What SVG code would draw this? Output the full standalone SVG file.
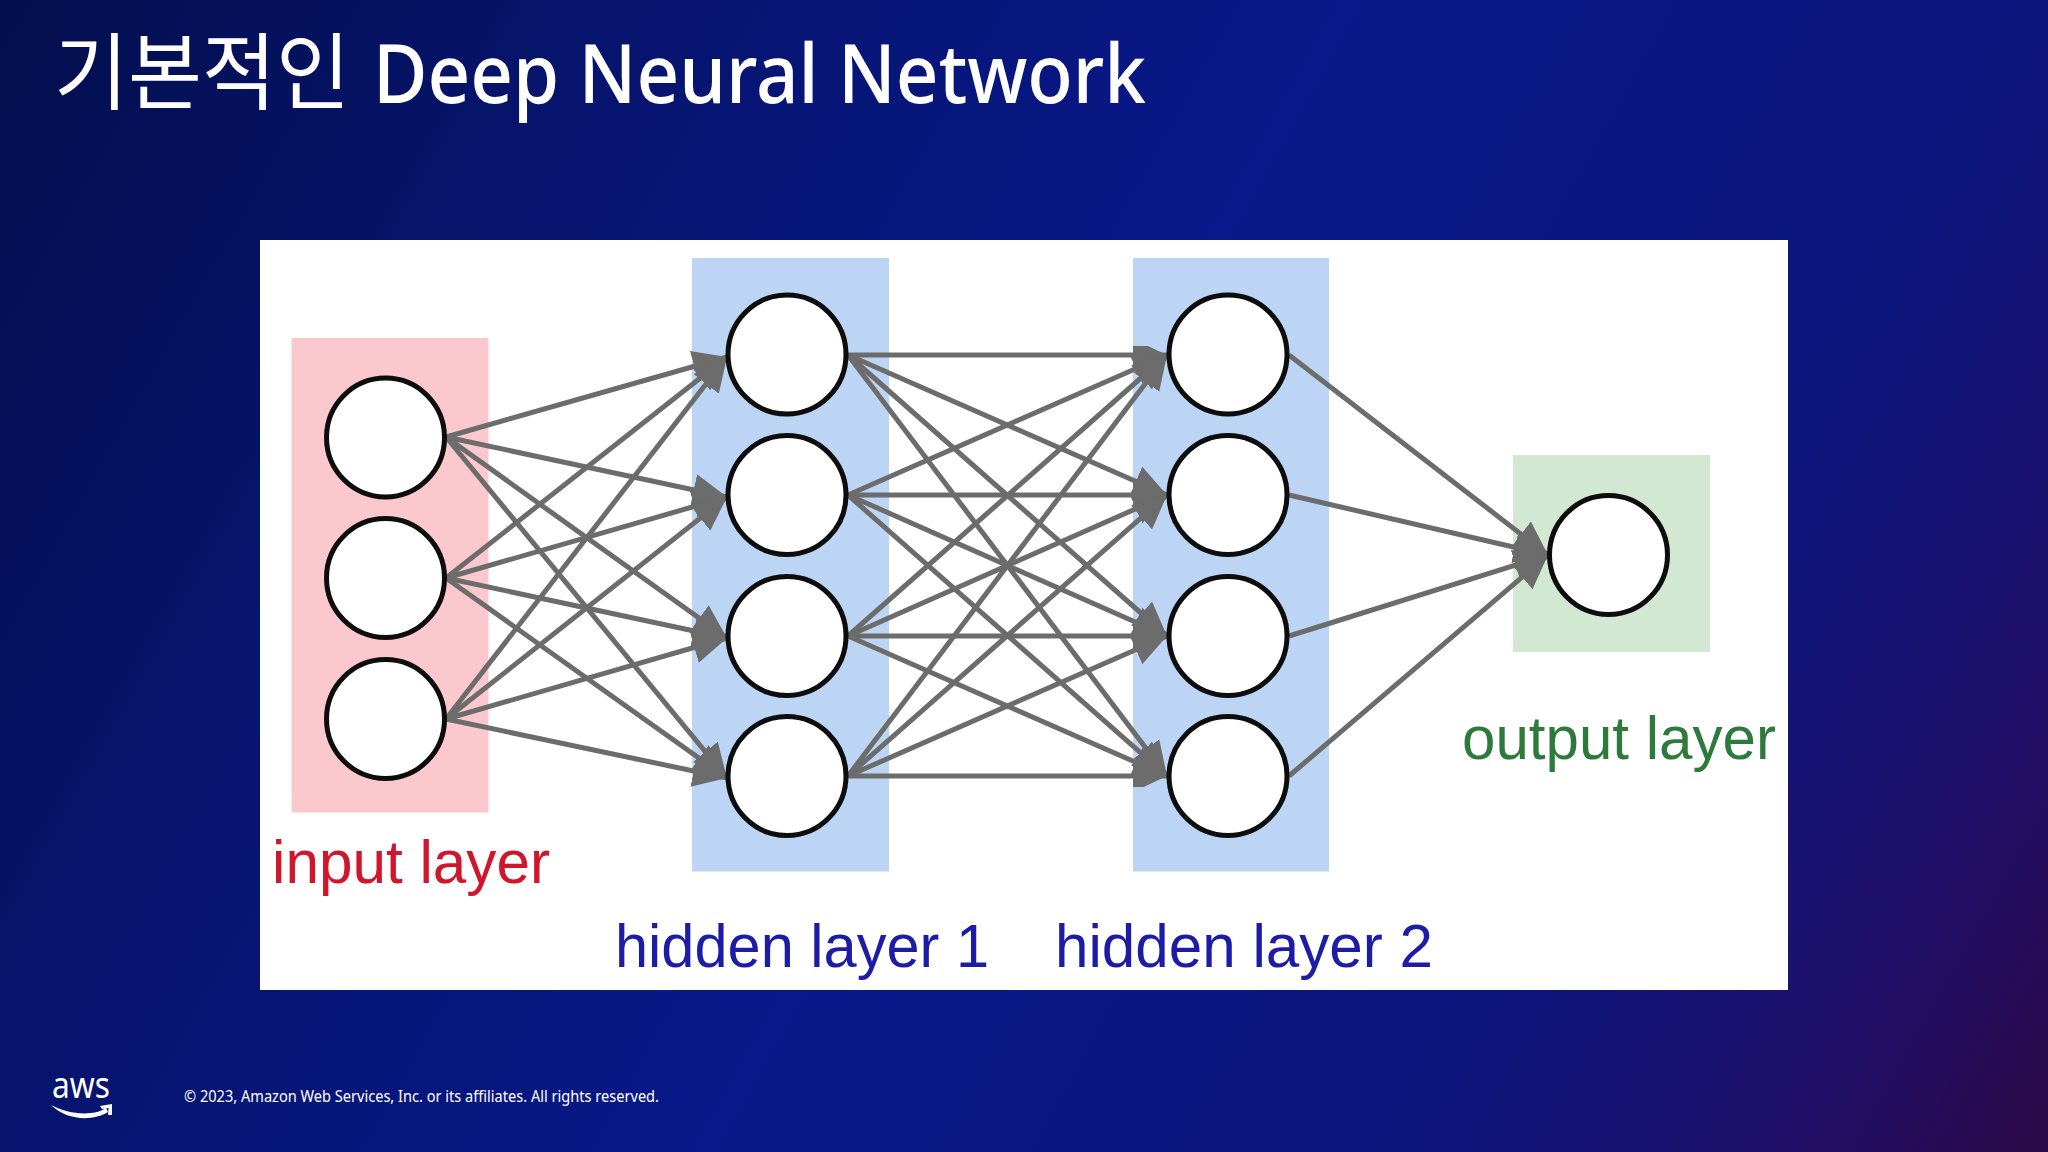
<svg xmlns="http://www.w3.org/2000/svg" width="2048" height="1152" viewBox="0 0 2048 1152">
<style>
.n{fill:#fff;stroke:#0a0a0a;stroke-width:5}
.c{fill:none;stroke:#6c6c6c;stroke-width:5;marker-end:url(#a)}
.lab{font-family:"Liberation Sans",Arial,sans-serif;font-size:62px}
.ui{font-family:"Noto Sans","Noto Sans CJK KR",sans-serif;fill:#fff}
</style>
<defs>
<linearGradient id="bg" x1="0" y1="0" x2="2048" y2="1152" gradientUnits="userSpaceOnUse">
<stop offset="0" stop-color="#030e4c"/><stop offset=".22" stop-color="#06146c"/><stop offset=".5" stop-color="#09188a"/><stop offset=".76" stop-color="#0b157c"/><stop offset=".9" stop-color="#20106a"/><stop offset="1" stop-color="#2b0745"/>
</linearGradient>
<marker id="a" markerUnits="userSpaceOnUse" markerWidth="36" markerHeight="34" refX="34" refY="17" orient="auto"><path d="M0,1L34,17L0,33z" fill="#6c6c6c"/></marker>
<filter id="s" x="-2%" y="-2%" width="104%" height="104%"><feGaussianBlur stdDeviation=".7"/></filter>
</defs>
<rect width="2048" height="1152" fill="url(#bg)"/>
<text id="title" class="ui" y="103"><tspan x="54" y="103" font-size="84" textLength="296" lengthAdjust="spacingAndGlyphs">기본적인</tspan> <tspan x="373" y="103" font-size="82" font-weight="500" textLength="773" lengthAdjust="spacingAndGlyphs">Deep Neural Network</tspan></text>
<rect id="panel" x="260" y="240" width="1528" height="750" fill="#fff"/>
<g id="bands" filter="url(#s)">
<rect x="291.500" y="338" width="197" height="474.500" fill="#fbc9cd"/>
<rect x="692" y="258" width="197" height="613.500" fill="#bcd5f5"/>
<rect x="1133" y="258" width="196" height="613.500" fill="#bcd5f5"/>
<rect x="1513" y="455" width="197" height="197" fill="#d2e8d3"/>
</g>
<g id="connectors" filter="url(#s)">
<line class="c" x1="446" y1="437" x2="727" y2="357"/><line class="c" x1="446" y1="437" x2="727" y2="497"/><line class="c" x1="446" y1="437" x2="727" y2="638"/><line class="c" x1="446" y1="437" x2="727" y2="778"/>
<line class="c" x1="446" y1="578" x2="727" y2="357"/><line class="c" x1="446" y1="578" x2="727" y2="497"/><line class="c" x1="446" y1="578" x2="727" y2="638"/><line class="c" x1="446" y1="578" x2="727" y2="778"/>
<line class="c" x1="446" y1="719" x2="727" y2="357"/><line class="c" x1="446" y1="719" x2="727" y2="497"/><line class="c" x1="446" y1="719" x2="727" y2="638"/><line class="c" x1="446" y1="719" x2="727" y2="778"/>
<line class="c" x1="848" y1="355" x2="1167" y2="355"/><line class="c" x1="848" y1="355" x2="1167" y2="495"/><line class="c" x1="848" y1="355" x2="1167" y2="636"/><line class="c" x1="848" y1="355" x2="1167" y2="776"/>
<line class="c" x1="848" y1="495" x2="1167" y2="355"/><line class="c" x1="848" y1="495" x2="1167" y2="495"/><line class="c" x1="848" y1="495" x2="1167" y2="636"/><line class="c" x1="848" y1="495" x2="1167" y2="776"/>
<line class="c" x1="848" y1="636" x2="1167" y2="355"/><line class="c" x1="848" y1="636" x2="1167" y2="495"/><line class="c" x1="848" y1="636" x2="1167" y2="636"/><line class="c" x1="848" y1="636" x2="1167" y2="776"/>
<line class="c" x1="848" y1="776" x2="1167" y2="355"/><line class="c" x1="848" y1="776" x2="1167" y2="495"/><line class="c" x1="848" y1="776" x2="1167" y2="636"/><line class="c" x1="848" y1="776" x2="1167" y2="776"/>
<line class="c" x1="1289" y1="355" x2="1548" y2="555"/><line class="c" x1="1289" y1="495" x2="1548" y2="555"/><line class="c" x1="1289" y1="636" x2="1548" y2="555"/><line class="c" x1="1289" y1="776" x2="1548" y2="555"/>
</g>
<g filter="url(#s)">
<g id="input-1"><ellipse class="n" cx="385.500" cy="437.500" rx="59" ry="59.500"/></g>
<g id="input-2"><ellipse class="n" cx="385.500" cy="578" rx="59" ry="59.500"/></g>
<g id="input-3"><ellipse class="n" cx="385.500" cy="719" rx="59" ry="59.500"/></g>
<g id="hidden1-1"><ellipse class="n" cx="787" cy="354.500" rx="59" ry="59.500"/></g>
<g id="hidden1-2"><ellipse class="n" cx="787" cy="495" rx="59" ry="59.500"/></g>
<g id="hidden1-3"><ellipse class="n" cx="787" cy="636" rx="59" ry="59.500"/></g>
<g id="hidden1-4"><ellipse class="n" cx="787" cy="776" rx="59" ry="59.500"/></g>
<g id="hidden2-1"><ellipse class="n" cx="1228" cy="354.500" rx="59" ry="59.500"/></g>
<g id="hidden2-2"><ellipse class="n" cx="1228" cy="495" rx="59" ry="59.500"/></g>
<g id="hidden2-3"><ellipse class="n" cx="1228" cy="636" rx="59" ry="59.500"/></g>
<g id="hidden2-4"><ellipse class="n" cx="1228" cy="776" rx="59" ry="59.500"/></g>
<g id="output-1"><ellipse class="n" cx="1608.500" cy="555" rx="59" ry="59.500"/></g>
<text id="label-input" class="lab" x="272" y="883" fill="#d0142c" textLength="278" lengthAdjust="spacingAndGlyphs">input layer</text>
<text id="label-hidden1" class="lab" x="615" y="967" fill="#1c1ca6" textLength="374" lengthAdjust="spacingAndGlyphs">hidden layer 1</text>
<text id="label-hidden2" class="lab" x="1055" y="967" fill="#1c1ca6" textLength="378" lengthAdjust="spacingAndGlyphs">hidden layer 2</text>
<text id="label-output" class="lab" x="1462" y="759" fill="#2f7a3c" textLength="314" lengthAdjust="spacingAndGlyphs">output layer</text>
</g>
<g id="aws-logo">
<text class="ui" x="52" y="1098" font-size="36" textLength="58" lengthAdjust="spacingAndGlyphs">aws</text>
<path d="M51,1105C68,1114 92,1117 106,1108L108,1112C92,1122 66,1120 51,1105ZM100,1106L112,1104L112,1115L108,1115L108.500,1108L102,1109Z" fill="#fff"/>
</g>
<text id="copyright" class="ui" x="184" y="1102" font-size="16" textLength="475" lengthAdjust="spacingAndGlyphs">© 2023, Amazon Web Services, Inc. or its affiliates. All rights reserved.</text>
</svg>
